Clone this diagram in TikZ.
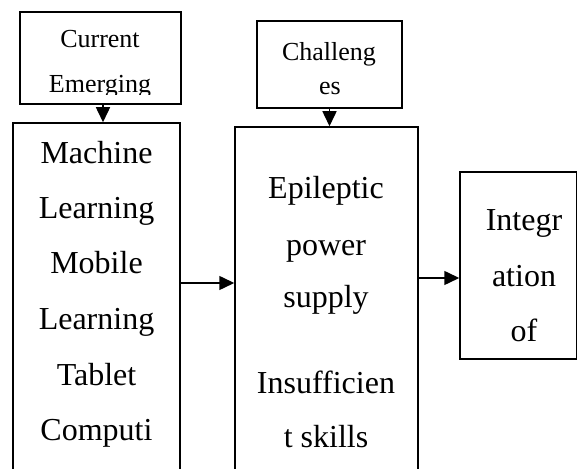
\documentclass[tikz,border=0pt]{standalone}
\usepackage{fontspec}
\setmainfont{Liberation Serif}
\usetikzlibrary{arrows.meta,calc}
\begin{document}
\begin{tikzpicture}[x=1pt,y=1pt,
  box/.style={draw,line width=1.5pt,inner sep=0pt,rectangle},
  big/.style={font=\fontsize{32}{38}\selectfont,anchor=base,inner sep=0pt},
  small/.style={font=\fontsize{26}{31}\selectfont,anchor=base,inner sep=0pt},
  arr/.style={line width=1.5pt,-{Triangle[length=15pt,width=14pt]}}]
\useasboundingbox (0,0) rectangle (577,468);
\clip (0,0) rectangle (577,468);
% boxes
\node[box,minimum width=161pt,minimum height=92pt] (b1) at (100.5,410) {};
\node[box,minimum width=167pt,minimum height=400pt] (b2) at (96.5,145) {};
\node[box,minimum width=145pt,minimum height=87pt] (b3) at (329.5,403.5) {};
\node[box,minimum width=183pt,minimum height=396pt] (b4) at (326.5,143) {};
\node[box,minimum width=116.5pt,minimum height=187pt] (b5) at (518.25,202.5) {};
% texts
\begin{scope}
  \clip (b1.north west) rectangle ([yshift=10pt]b1.south east);
  \node[small] (c1) at (100,420) {Current};
  \node[small] (c2) at (100,375) {Emerging};
\end{scope}
\node[small] (h1) at (329,407) {Challeng};
\node[small] (h2) at (330,373) {es};
\node[big] (l1) at (96.5,304) {Machine};
\node[big] (l2) at (96.5,249) {Learning};
\node[big] (l3) at (96.5,194) {Mobile};
\node[big] (l4) at (96.5,138) {Learning};
\node[big] (l5) at (96.5,83) {Tablet};
\node[big] (l6) at (96.5,28) {Computi};
\node[big] (m1) at (326,269) {Epileptic};
\node[big] (m2) at (326,212) {power};
\node[big] (m3) at (326,160) {supply};
\node[big] (m4) at (326,75) {Insufficien};
\node[big] (m5) at (326,21) {t skills};
\node[big] (r1) at (524,237) {Integr};
\node[big] (r2) at (524,181) {ation};
\node[big] (r3) at (524,126) {of};
% connectors
\draw[arr] ([xshift=2.5pt]b1.south) -- ([xshift=2.5pt]b1.south |- b2.north);
\draw[arr] (b3.south) -- (b3.south |- b4.north);
\coordinate (p1) at ([yshift=40pt]b2.east);
\draw[arr] (p1) -- (p1 -| b4.west);
\coordinate (p2) at ([yshift=47pt]b4.east);
\draw[arr] (p2) -- (p2 -| b5.west);
\end{tikzpicture}
\end{document}
